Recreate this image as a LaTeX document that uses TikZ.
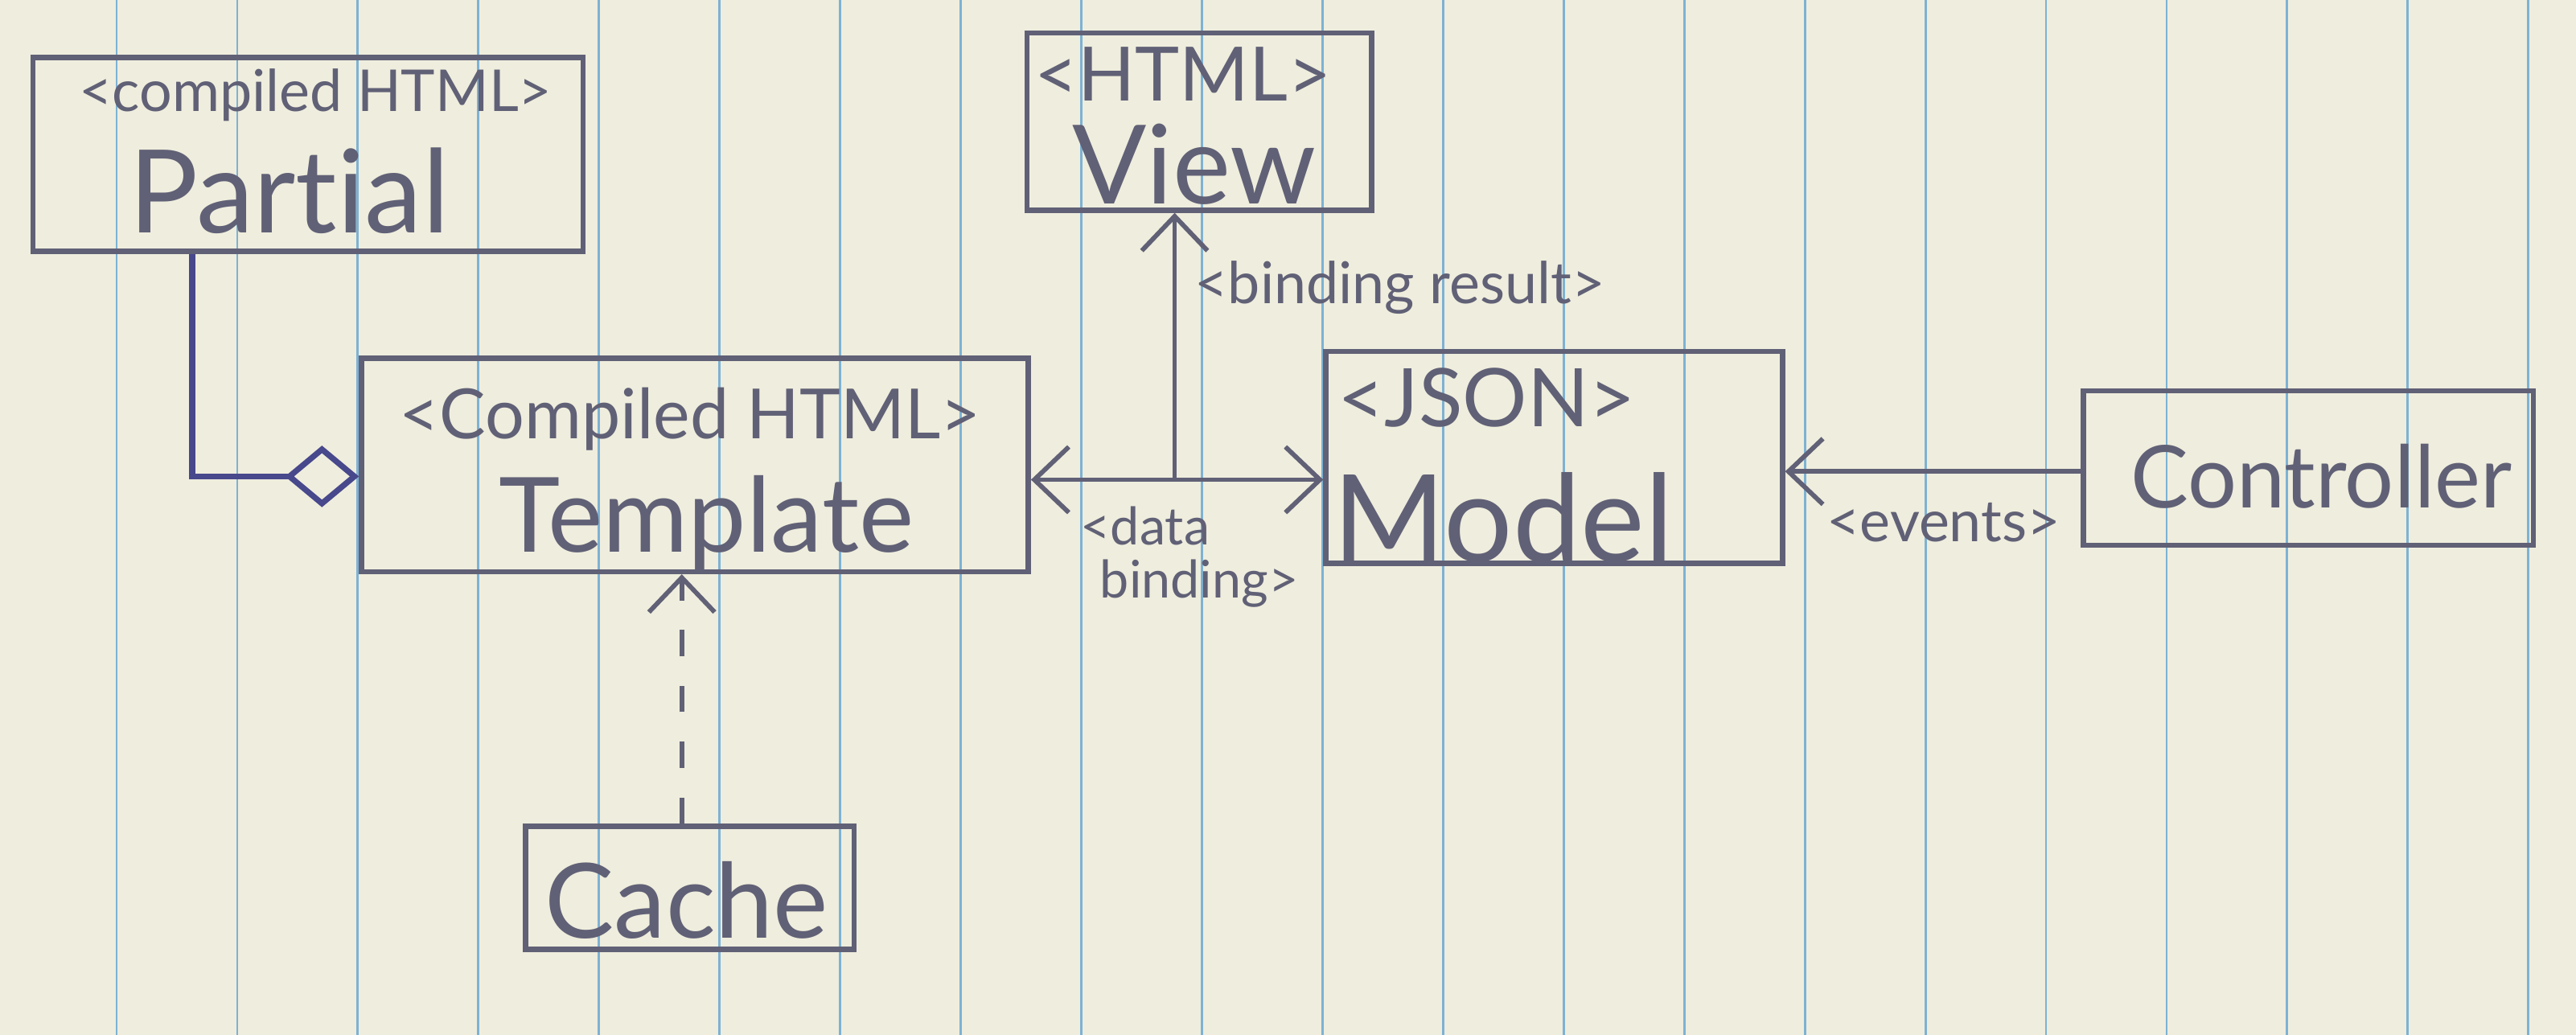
\documentclass[tikz,border=0pt]{standalone}
\usepackage{fontspec}
\setmainfont[Ligatures=NoCommon]{Lato}
\usetikzlibrary{arrows.meta,calc}
\definecolor{paper}{RGB}{239,237,221}
\definecolor{rulecol}{RGB}{125,178,212}
\definecolor{pencil}{RGB}{96,96,118}
\definecolor{ink}{RGB}{72,72,140}
\begin{document}
\begin{tikzpicture}[x=0.02cm,y=-0.02cm,
  box/.style={draw=pencil,line width=1.8pt,rectangle,inner sep=0pt},
  lbl/.style={text=pencil,inner sep=0pt,anchor=center},
  conn/.style={draw=pencil,line width=1.6pt},
  barb/.tip={Straight Barb[length=0.42cm,width=0.8cm,line width=1.6pt]},
  agg/.style={draw=ink,line width=2pt},
  dashline/.style={dash pattern=on 0.32cm off 0.36cm}]
\useasboundingbox (0,0) rectangle (1568,630);
\fill[paper] (0,0) rectangle (1568,630);
\foreach \k in {0,...,20} \draw[rulecol,line width=0.8pt] ({71+73.4*\k},0) -- ({71+73.4*\k},630);

% boxes
\node[box,minimum width=6.7cm,minimum height=2.36cm] (Partial) at (187.5,94) {};
\node[box,minimum width=4.2cm,minimum height=2.16cm] (View) at (730,74) {};
\node[box,minimum width=8.12cm,minimum height=2.6cm] (Template) at (423,283) {};
\node[box,minimum width=5.56cm,minimum height=2.58cm] (Model) at (946,278.5) {};
\node[box,minimum width=5.48cm,minimum height=1.88cm] (Controller) at (1405,285) {};
\node[box,minimum width=4.0cm,minimum height=1.5cm] (Cache) at (420,540.5) {};

% texts in boxes
\node[lbl,font=\fontsize{20}{24}\selectfont] (partialst) at (192,58) {<compiled HTML>};
\node[lbl,font=\fontsize{40}{48}\selectfont] (partialname) at (176,116) {Partial};
\node[lbl,font=\fontsize{26}{30}\selectfont] (viewst) at (720,45) {<HTML>};
\node[lbl,font=\fontsize{38}{44}\selectfont] (viewname) at (727,100) {View};
\node[lbl,font=\fontsize{24}{28}\selectfont] (templatest) at (420,255) {<Compiled HTML>};
\node[lbl,font=\fontsize{36}{42}\selectfont] (templatename) at (430,318) {Template};
\node[lbl,font=\fontsize{28}{32}\selectfont] (modelst) at (905,242) {<JSON>};
\node[lbl,font=\fontsize{42}{48}\selectfont] (modelname) at (915,315) {Model};
\node[lbl,font=\fontsize{30}{36}\selectfont] (controllername) at (1413,290) {Controller};
\node[lbl,font=\fontsize{36}{42}\selectfont] (cachename) at (418,548) {Cache};

% helper coordinates
\coordinate (pd) at (117,0);
\coordinate (yagg) at (0,290);
\coordinate (ydb) at (0,292);
\coordinate (jn) at (715,292);
\coordinate (yev) at (0,287);
\coordinate (xc) at (415,0);

% connectors
\draw[agg,-{Diamond[length=0.9cm,width=0.75cm,fill=paper,line width=2pt]}]
  (Partial.south -| pd) |- (Template.west |- yagg);
\draw[conn,barb-barb] (Template.east |- ydb) -- (Model.west |- ydb);
\draw[conn,-barb] (jn) -- (View.south -| jn);
\draw[conn,-barb] (Controller.west |- yev) -- (Model.east |- yev);
\draw[conn,dashline,-barb] (Cache.north -| xc) -- (Template.south -| xc);

% connector labels
\node[lbl,font=\fontsize{20}{24}\selectfont] (bindres) at (852,175) {<binding result>};
\node[lbl,font=\fontsize{18}{22}\selectfont] (db1) at (697,320) {<data};
\node[lbl,font=\fontsize{18}{22}\selectfont] (db2) at (730,355) {binding>};
\node[lbl,font=\fontsize{20}{24}\selectfont] (events) at (1183,318) {<events>};
\end{tikzpicture}
\end{document}
